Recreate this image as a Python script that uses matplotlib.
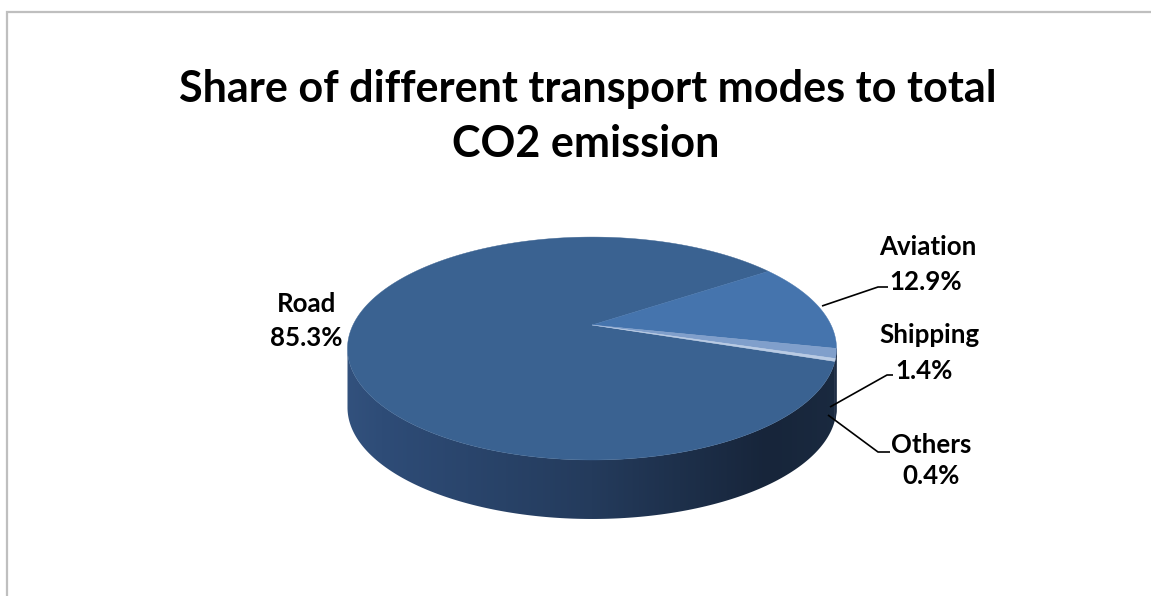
import numpy as np
import matplotlib
matplotlib.use('Agg')
import matplotlib.pyplot as plt
from matplotlib.patches import Polygon
from matplotlib.colors import LinearSegmentedColormap

# ---------------- data ----------------
categories = ['Road', 'Aviation', 'Shipping', 'Others']
shares = [85.3, 12.9, 1.4, 0.4]
pct_labels = ['85.3%', '12.9%', '1.4%', '0.4%']
title_lines = ['Share of different transport modes to total', 'CO2 emission']

# ---------------- style ----------------
top_colors = ['#3A6291', '#4574AD', '#809FCB', '#B9CBE4']
side_colors = ['grad', '#1A2A40', '#1C2C43', '#1D2D45']
FONT = ['Lato', 'DejaVu Sans']

W, H = 1151, 596
fig = plt.figure(figsize=(W / 100, H / 100), dpi=100)
ax = fig.add_axes([0, 0, 1, 1])
ax.set_xlim(0, W)
ax.set_ylim(H, 0)
ax.axis('off')

# frame
ax.plot([7, 7, W + 5], [H + 5, 12, 12], color='#BFBFBF', lw=1.6,
        solid_joinstyle='miter', zorder=0)

# pie geometry (pixel space, perspective top face, extruded side)
cx, cy = 592, 325
A, B, p = 239, 106.5, 0.211
T = 59
start = -18.6  # first slice starts here, slices run clockwise


def proj(th):
    t = np.radians(th)
    den = 1 + p * np.sin(t)
    return cx + A * np.cos(t) / den, cy - B * np.sin(t) / den


total = sum(shares)
spans = [360 * s / total for s in shares]
ext = np.degrees(np.arcsin(-p))          # -12.18
front_lo, front_hi = 180 - ext, 360 + ext  # visible side range

cmap = LinearSegmentedColormap.from_list(
    'side', [(0, '#33527E'), (0.08, '#2E4C77'), (0.5, '#243B5C'),
             (0.85, '#17253A'), (1.0, '#1A2A40')])

a0 = start
for i, (cat, sp) in enumerate(zip(categories, spans)):
    a1 = a0 - sp
    # side
    lo, hi = a1, a0
    shift = np.floor(lo / 360) * 360
    lo -= shift
    hi -= shift
    s_lo, s_hi = max(lo, front_lo), min(hi, front_hi)
    if s_hi > s_lo:
        th = np.linspace(s_lo, s_hi, 200)
        xs, ys = proj(th)
        pts = np.column_stack([np.r_[xs, xs[::-1]], np.r_[ys, ys[::-1] + T]])
        if side_colors[i] == 'grad':
            poly = Polygon(pts, closed=True, facecolor='none', edgecolor='none', zorder=1)
            ax.add_patch(poly)
            grad = np.linspace(0, 1, 512).reshape(1, -1)
            im = ax.imshow(grad, cmap=cmap, aspect='auto',
                           extent=(cx - A * 1.05, cx + A * 1.05, cy + 220, cy - 50),
                           zorder=1, interpolation='bilinear')
            im.set_clip_path(poly)
        else:
            ax.add_patch(Polygon(pts, closed=True, facecolor=side_colors[i],
                                 edgecolor=side_colors[i], lw=0.5, zorder=1.5))
    # top wedge
    th = np.linspace(a0, a1, max(int(sp * 4), 8))
    xs, ys = proj(th)
    pts = np.column_stack([np.r_[cx, xs], np.r_[cy, ys]])
    ax.add_patch(Polygon(pts, closed=True, facecolor=top_colors[i],
                         edgecolor=top_colors[i], lw=0.3, zorder=2))
    a0 = a1

ax.set_xlim(0, W)
ax.set_ylim(H, 0)

renderer = fig.canvas.get_renderer()


def fit_size(text, width_px, weight='bold'):
    t = ax.text(0, 0, text, fontsize=20, fontweight=weight, family=FONT)
    w = t.get_window_extent(renderer).width
    t.remove()
    return 20 * width_px / w


# title
ts = fit_size(title_lines[0], 817)
ax.text(588, 102, title_lines[0], ha='center', va='baseline', fontsize=ts,
        fontweight='bold', family=FONT, color='black')
ax.text(586, 157, title_lines[1], ha='center', va='baseline', fontsize=ts,
        fontweight='bold', family=FONT, color='black')

# data labels
ls = fit_size('Shipping', 100)
label_pos = {
    'Road': ((307, 312), (306, 346)),
    'Aviation': ((928, 255), (926, 290)),
    'Shipping': ((929, 343), (924, 379)),
    'Others': ((931, 453), (931, 484)),
}
for cat, pct in zip(categories, pct_labels):
    (nx, ny), (px, py) = label_pos[cat]
    ax.text(nx, ny, cat, ha='center', va='baseline', fontsize=ls,
            fontweight='bold', family=FONT, color='black', zorder=5)
    ax.text(px, py, pct, ha='center', va='baseline', fontsize=ls,
            fontweight='bold', family=FONT, color='black', zorder=5)

leaders = {
    'Aviation': [(822, 306), (878, 287), (888, 287)],
    'Shipping': [(830, 407), (887, 375), (893, 375)],
    'Others': [(828, 415), (878, 452), (890, 452)],
}
for cat, pts in leaders.items():
    xs, ys = zip(*pts)
    ax.plot(xs, ys, color='black', lw=1.2, zorder=4, solid_capstyle='butt')

fig.savefig('out.png', dpi=100)
